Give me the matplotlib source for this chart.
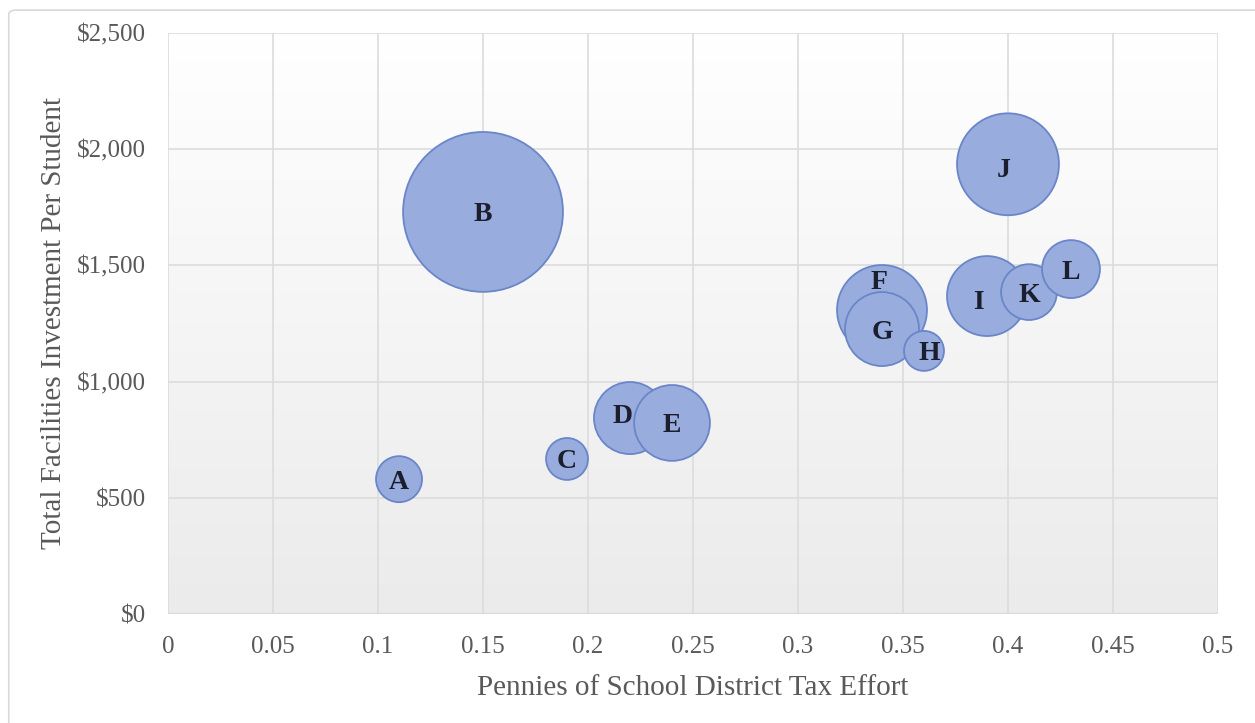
import numpy as np
import matplotlib
matplotlib.use("Agg")
import matplotlib.pyplot as plt
from matplotlib.colors import LinearSegmentedColormap
from matplotlib.patches import FancyBboxPatch

# districts, tax effort (pennies), facilities investment per student, bubble size
districts = ["A", "B", "C", "D", "E", "F", "G", "H", "I", "J", "K", "L"]
tax_effort = [0.11, 0.15, 0.19, 0.22, 0.24, 0.34, 0.34, 0.36, 0.39, 0.40, 0.41, 0.43]
investment = [580, 1730, 667, 843, 822, 1308, 1226, 1132, 1368, 1935, 1385, 1484]
bubble_size = [530, 6400, 440, 1300, 1440, 2025, 1370, 400, 1600, 2600, 780, 840]

x_ticks = [0, 0.05, 0.1, 0.15, 0.2, 0.25, 0.3, 0.35, 0.4, 0.45, 0.5]
x_tick_labels = ["0", "0.05", "0.1", "0.15", "0.2", "0.25", "0.3", "0.35", "0.4", "0.45", "0.5"]
y_ticks = [0, 500, 1000, 1500, 2000, 2500]
y_tick_labels = ["$0", "$500", "$1,000", "$1,500", "$2,000", "$2,500"]

plt.rcParams['font.family'] = ['Liberation Serif', 'DejaVu Serif']

fig = plt.figure(figsize=(12.55, 7.23), dpi=100)
fig.patches.append(FancyBboxPatch((0.007, -0.05), 1.1, 1.036, boxstyle="round,pad=0,rounding_size=0.006",
                                  transform=fig.transFigure, fc="white", ec="#d9d9d9", lw=1.2, zorder=-1))
ax = fig.add_axes([0.1339, 0.1508, 0.8366, 0.8036])

# plot area gradient
cmap_bg = LinearSegmentedColormap.from_list("bg", ["#ebebeb", "#ffffff"])
grad = np.linspace(0, 1, 256)[:, None]
ax.imshow(grad, extent=[0, 0.5, 0, 2500], aspect="auto", cmap=cmap_bg, origin="lower", zorder=0)

ax.set_xlim(0, 0.5)
ax.set_ylim(0, 2500)
ax.set_xticks(x_ticks)
ax.set_xticklabels(x_tick_labels)
ax.set_yticks(y_ticks)
ax.set_yticklabels(y_tick_labels)
ax.grid(True, color="#dcdcdc", lw=1.2, zorder=1)
for s in ax.spines.values():
    s.set_visible(False)
ax.axhline(0, color="#cfcfcf", lw=1.5, zorder=1)
ax.tick_params(length=0, labelsize=18, colors="#595959")
ax.tick_params(axis="x", pad=16)
ax.tick_params(axis="y", pad=16)

s = 2.07 * np.array(bubble_size)
ax.scatter(tax_effort, investment, s=s, c="#98acdd", edgecolors="#6a86c9", linewidths=1.3, zorder=3)

offsets = {"F": (-3, 27), "D": (-7, 2), "I": (-9, -6), "H": (5, -3), "J": (-4, -6)}
for name, xv, yv in zip(districts, tax_effort, investment):
    dx, dy = offsets.get(name, (0, -3))
    ax.annotate(name, (xv, yv), xytext=(dx, dy), textcoords="offset pixels", ha="center", va="center",
                fontsize=20, fontweight="bold", color="#1b1e2c", zorder=4)

ax.set_xlabel("Pennies of School District Tax Effort", fontsize=21, color="#595959", labelpad=12)
ax.set_ylabel("Total Facilities Investment Per Student", fontsize=21, color="#595959", labelpad=7)

fig.savefig("out.png", dpi=100)
